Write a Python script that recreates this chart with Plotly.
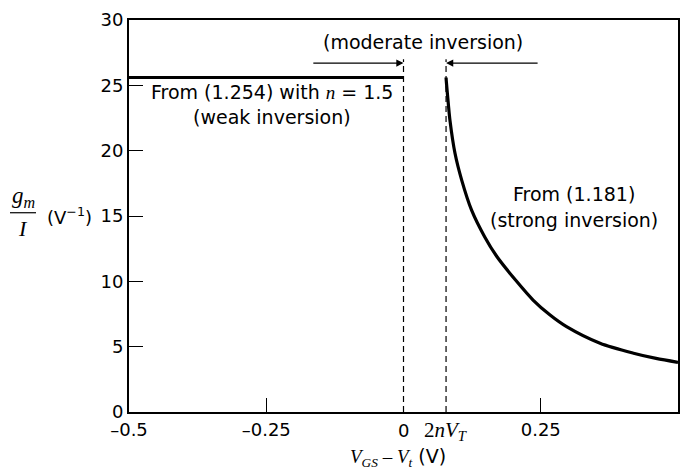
import plotly.graph_objects as go

# ---- data ----
weak_x = [-0.5, 0.0]
weak_y = [25.6, 25.6]

strong_x = [0.0775, 0.078, 0.0816, 0.0847, 0.0938, 0.106, 0.124, 0.148, 0.170, 0.206,
            0.236, 0.267, 0.297, 0.358, 0.419, 0.46, 0.5]
strong_y = [25.6, 25.3, 23.6, 22.3, 19.8, 17.75, 15.45, 13.4, 11.9, 10.0,
            8.57, 7.42, 6.53, 5.26, 4.5, 4.1, 3.8]

x_zero = 0.0
x_2nvt = 0.0775
dash_top = 27.0
arrow_y = 26.7
arrow_left_start = -0.167
arrow_right_start = 0.247

xtick_vals = [-0.5, -0.25, 0.25, 0.5]
xtick_text = ["\u20130.5", "\u20130.25", "0.25", "0.5"]
ytick_vals = [0, 5, 10, 15, 20, 25, 30]
ytick_text = ["0", "5", "10", "15", "20", "25", "30"]

SANS = "DejaVu Sans, Liberation Sans, Arial, sans-serif"
SERIF = "Liberation Serif, Times New Roman, serif"
BLACK = "black"

# the page body has an 8px margin; compensate so the plot lands where the reference has it
OFF = 8
ML, MR, MT, MB = 129 - OFF, 14, 20 - OFF, 57
W, H = 692 - OFF, 469 - OFF
PW = W - ML - MR


def px2paper_x(px):
    return (px - OFF - ML) / PW


fig = go.Figure()
fig.add_trace(go.Scatter(x=weak_x, y=weak_y, mode="lines",
                         line=dict(color=BLACK, width=3.2), hoverinfo="skip"))
fig.add_trace(go.Scatter(x=strong_x, y=strong_y, mode="lines",
                         line=dict(color=BLACK, width=3.2, shape="spline", smoothing=0.8),
                         hoverinfo="skip"))
for xv in [x_zero, x_2nvt]:
    fig.add_trace(go.Scatter(x=[xv, xv], y=[0, dash_top], mode="lines",
                             line=dict(color=BLACK, width=1.2, dash="6px,4px"), hoverinfo="skip"))

ann_font = dict(family=SANS, size=19, color=BLACK)
annotations = []
# arrows
annotations.append(dict(x=x_zero, y=arrow_y, ax=arrow_left_start, ay=arrow_y,
                        xref="x", yref="y", axref="x", ayref="y", showarrow=True,
                        arrowhead=2, arrowsize=1.2, arrowwidth=1.2, arrowcolor=BLACK, text=""))
annotations.append(dict(x=x_2nvt, y=arrow_y, ax=arrow_right_start, ay=arrow_y,
                        xref="x", yref="y", axref="x", ayref="y", showarrow=True,
                        arrowhead=2, arrowsize=1.2, arrowwidth=1.2, arrowcolor=BLACK, text=""))
# texts
annotations.append(dict(x=0.036, y=28.3, xref="x", yref="y", showarrow=False,
                        text="(moderate inversion)", font=ann_font))
annotations.append(dict(x=-0.239, y=24.5, xref="x", yref="y", showarrow=False,
                        text="From (1.254) with <span style='font-family:Liberation Serif'><i>n</i></span> = 1.5",
                        font=ann_font))
annotations.append(dict(x=-0.239, y=22.6, xref="x", yref="y", showarrow=False,
                        text="(weak inversion)", font=ann_font))
annotations.append(dict(x=0.31, y=16.7, xref="x", yref="y", showarrow=False,
                        text="From (1.181)", font=ann_font))
annotations.append(dict(x=0.31, y=14.7, xref="x", yref="y", showarrow=False,
                        text="(strong inversion)", font=ann_font))
# special x tick labels (at the dashed lines, no tick marks there)
annotations.append(dict(x=x_zero, y=0, xref="x", yref="paper", xanchor="center", yanchor="middle",
                        yshift=-18, showarrow=False, text="0",
                        font=dict(family=SANS, size=18, color=BLACK)))
annotations.append(dict(x=x_2nvt, y=0, xref="x", yref="paper", xanchor="center", yanchor="middle",
                        yshift=-19, showarrow=False, text="2<i>nV</i><sub><i>T</i></sub>",
                        font=dict(family=SERIF, size=21, color=BLACK)))
# x axis title
annotations.append(dict(x=-0.01, y=0, xref="x", yref="paper", xanchor="center", yanchor="middle",
                        yshift=-45, showarrow=False,
                        text="<span style='font-family:Liberation Serif'><i>V</i><sub><i>GS</i></sub> \u2013 <i>V</i><sub><i>t</i></sub></span> (V)",
                        font=dict(family=SANS, size=19, color=BLACK)))
# y axis title (fraction g_m / I)
frac_y = 15.25
annotations.append(dict(x=px2paper_x(23), y=frac_y, xref="paper", yref="y",
                        xanchor="center", yanchor="bottom", yshift=0,
                        showarrow=False, text="<i>g<sub>m</sub></i>",
                        font=dict(family=SERIF, size=23, color=BLACK)))
annotations.append(dict(x=px2paper_x(23), y=frac_y, xref="paper", yref="y",
                        xanchor="center", yanchor="top", yshift=-1,
                        showarrow=False, text="<i>I</i>",
                        font=dict(family=SERIF, size=22, color=BLACK)))
annotations.append(dict(x=px2paper_x(69), y=15.0, xref="paper", yref="y",
                        xanchor="center", yanchor="middle",
                        showarrow=False, text="(V<sup>\u22121</sup>)",
                        font=dict(family=SANS, size=18, color=BLACK)))

fig.update_layout(
    width=W, height=H,
    margin=dict(l=ML, r=MR, t=MT, b=MB, autoexpand=False),
    paper_bgcolor="white", plot_bgcolor="white",
    showlegend=False,
    annotations=annotations,
    shapes=[dict(type="line", xref="paper", yref="y",
                 x0=px2paper_x(10), x1=px2paper_x(36), y0=frac_y, y1=frac_y,
                 line=dict(color=BLACK, width=1.2))],
    font=dict(family=SANS, size=18, color=BLACK),
)
fig.update_xaxes(range=[-0.5, 0.5], tickvals=xtick_vals, ticktext=xtick_text,
                 ticks="inside", ticklen=14, tickwidth=1.2, tickcolor=BLACK,
                 showline=True, linecolor=BLACK, linewidth=2, mirror=True,
                 showgrid=False, zeroline=False, tickfont=dict(family=SANS, size=18),
                 automargin=False)
fig.update_yaxes(range=[0, 30], tickvals=ytick_vals, ticktext=ytick_text,
                 ticks="inside", ticklen=14, tickwidth=1.2, tickcolor=BLACK,
                 showline=True, linecolor=BLACK, linewidth=2, mirror=True,
                 showgrid=False, zeroline=False, tickfont=dict(family=SANS, size=18),
                 automargin=False)

fig.write_html("out.html")
